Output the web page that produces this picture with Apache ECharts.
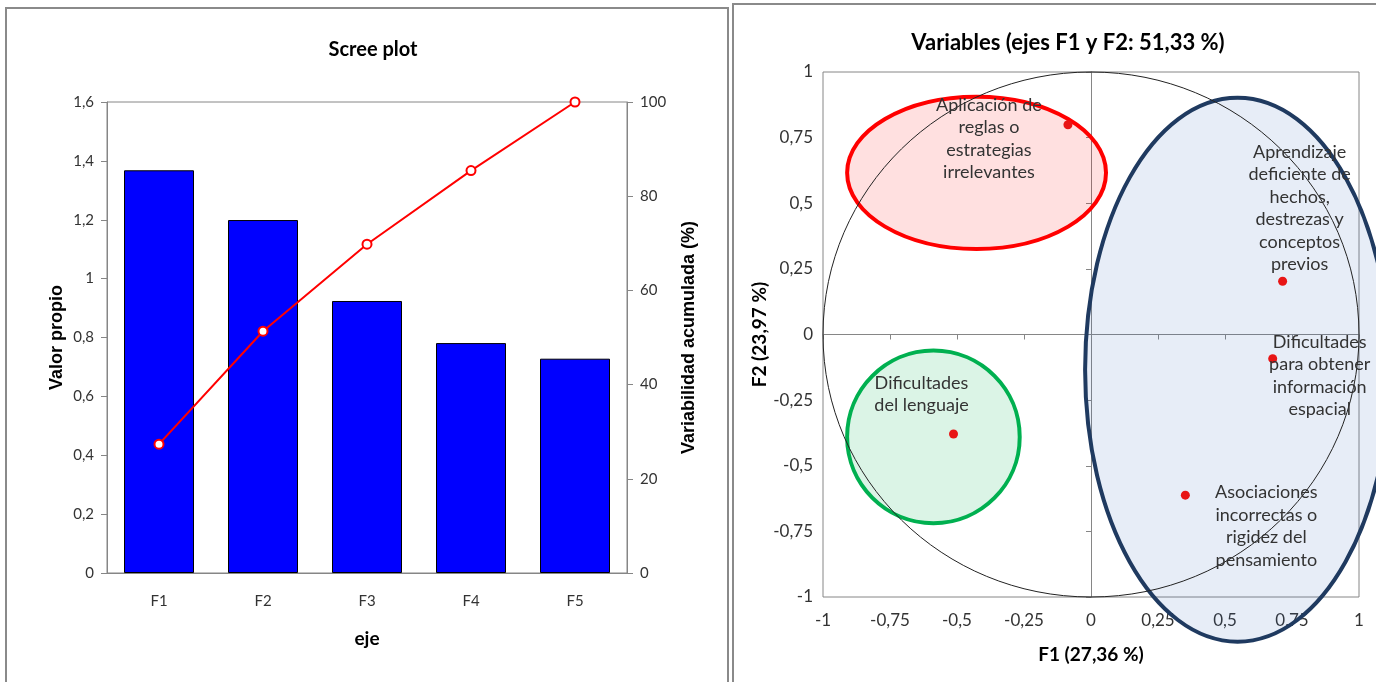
<!DOCTYPE html>
<html>
<head>
<meta charset="utf-8">
<script src="https://cdn.jsdelivr.net/npm/echarts@6/dist/echarts.min.js"></script>
<style>
  html, body { margin: 0; padding: 0; background: #fff; }
  #chart { width: 1376px; height: 682px; }
</style>
</head>
<body>
<div id="chart"></div>
<script>
var FONT = "Lato, 'Open Sans', sans-serif";
var ARIAL = "'Liberation Sans', Arial, sans-serif";

// scree plot
var ejes = ["F1", "F2", "F3", "F4", "F5"];
var valorPropio = [1.368, 1.199, 0.924, 0.781, 0.728];
var acumulada = [27.36, 51.33, 69.81, 85.43, 100];

// correlation circle
var varNames = [
  "Aplicación de\nreglas o\nestrategias\nirrelevantes",
  "Aprendizaje\ndeficiente de\nhechos,\ndestrezas y\nconceptos\nprevios",
  "Dificultades\npara obtener\ninformación\nespacial",
  "Asociaciones\nincorrectas o\nrigidez del\npensamiento",
  "Dificultades\ndel lenguaje"
];
var f1 = [-0.086, 0.715, 0.678, 0.352, -0.513];
var f2 = [0.799, 0.203, -0.092, -0.612, -0.379];
var labelOffsets = [[-79, 14], [17, -73], [47, 17], [81, 31], [-32, -40]];

// hand-drawn groups: [cx, cy, rx, ry] in F1/F2 units
var groups = [
  { e: [-0.427, 0.616, 0.483, 0.29], fill: "rgba(255,0,0,0.12)", stroke: "#ff0000" },
  { e: [-0.588, -0.39, 0.322, 0.329], fill: "rgba(0,176,80,0.14)", stroke: "#00b050" },
  { e: [0.547, -0.134, 0.569, 1.036], fill: "rgba(60,110,190,0.12)", stroke: "#1f3a60" }
];

function comma(v) { return String(v).replace(".", ","); }

var pointsData = [];
for (var i = 0; i < f1.length; i++) {
  pointsData.push({
    value: [f1[i], f2[i]],
    label: { formatter: varNames[i], offset: labelOffsets[i] }
  });
}

function ellipseItem(params, api) {
  var c = api.coord([api.value(0), api.value(1)]);
  var s = api.size([api.value(2), api.value(3)]);
  var g = groups[params.dataIndex];
  return {
    type: "ellipse",
    shape: { cx: c[0], cy: c[1], rx: s[0], ry: s[1] },
    style: { fill: g.fill, stroke: g.stroke, lineWidth: 4 }
  };
}

var leftName = { fontFamily: ARIAL, fontSize: 18, fontWeight: "bold", color: "#000" };
var rightName = { fontFamily: FONT, fontSize: 19, fontWeight: "bold", color: "#000" };
var leftTick = { fontFamily: FONT, fontSize: 15, color: "#333" };
var rightTick = { fontFamily: FONT, fontSize: 17, color: "#333" };

var option = {
  animation: false,
  textStyle: { fontFamily: FONT },
  graphic: [
    { type: "rect", shape: { x: 6, y: 8, width: 722, height: 690 }, style: { fill: null, stroke: "#8a8a8a", lineWidth: 2 } },
    { type: "rect", shape: { x: 733, y: 4, width: 660, height: 700 }, style: { fill: null, stroke: "#8a8a8a", lineWidth: 2 } }
  ],
  title: [
    { text: "Scree plot", left: 368, top: 35, textAlign: "center",
      textStyle: { fontFamily: FONT, fontSize: 20, fontWeight: "bold", color: "#000" } },
    { text: "Variables (ejes F1 y F2: 51,33 %)", left: 1063, top: 27, textAlign: "center",
      textStyle: { fontFamily: FONT, fontSize: 22, fontWeight: "bold", color: "#000" } }
  ],
  grid: [
    { left: 107, top: 102, width: 520, height: 471, show: true, borderColor: "#868686", borderWidth: 1 },
    { left: 823, top: 72, width: 536, height: 525, show: true, borderColor: "#868686", borderWidth: 1 }
  ],
  xAxis: [
    {
      type: "category", gridIndex: 0, data: ejes,
      axisLine: { lineStyle: { color: "#868686" } },
      axisTick: { length: 6, lineStyle: { color: "#868686" } },
      axisLabel: Object.assign({ margin: 21 }, leftTick),
      name: "eje", nameLocation: "middle", nameGap: 56, nameTextStyle: rightName
    },
    {
      type: "value", gridIndex: 1, min: -1, max: 1, interval: 0.25, position: "bottom",
      axisLine: { show: false, onZero: false }, axisTick: { show: false }, splitLine: { show: false },
      axisLabel: Object.assign({ margin: 15, formatter: comma }, rightTick),
      name: "F1 (27,36 %)", nameLocation: "middle", nameGap: 48, nameTextStyle: rightName
    },
    {
      type: "value", gridIndex: 1, min: -1, max: 1, interval: 0.25, position: "bottom",
      axisLine: { show: true, onZero: true, lineStyle: { color: "#868686" } },
      axisTick: { show: true, length: 5, lineStyle: { color: "#868686" } },
      axisLabel: { show: false }, splitLine: { show: false }
    }
  ],
  yAxis: [
    {
      type: "value", gridIndex: 0, min: 0, max: 1.6, interval: 0.2,
      axisLine: { show: true, lineStyle: { color: "#868686" } },
      axisTick: { show: true, length: 6, lineStyle: { color: "#868686" } },
      splitLine: { show: false },
      axisLabel: Object.assign({ margin: 13, formatter: function (v) { return comma(+v.toFixed(1)); } }, leftTick),
      name: "Valor propio", nameLocation: "middle", nameGap: 41, nameRotate: 90, nameTextStyle: leftName
    },
    {
      type: "value", gridIndex: 0, min: 0, max: 100, interval: 20, position: "right",
      axisLine: { show: true, lineStyle: { color: "#868686" } },
      axisTick: { show: true, length: 6, lineStyle: { color: "#868686" } },
      splitLine: { show: false },
      axisLabel: Object.assign({ margin: 13 }, leftTick),
      name: "Variabilidad acumulada (%)", nameLocation: "middle", nameGap: 53, nameRotate: 90,
      nameTextStyle: leftName
    },
    {
      type: "value", gridIndex: 1, min: -1, max: 1, interval: 0.25, position: "left",
      axisLine: { show: false, onZero: false }, axisTick: { show: false }, splitLine: { show: false },
      axisLabel: Object.assign({ margin: 10, formatter: comma }, rightTick),
      name: "F2 (23,97 %)", nameLocation: "middle", nameGap: 40, nameRotate: 90, nameTextStyle: rightName
    },
    {
      type: "value", gridIndex: 1, min: -1, max: 1, interval: 0.25, position: "left",
      axisLine: { show: true, onZero: true, lineStyle: { color: "#868686" } },
      axisTick: { show: true, length: 5, lineStyle: { color: "#868686" } },
      axisLabel: { show: false }, splitLine: { show: false }
    }
  ],
  series: [
    {
      type: "bar", xAxisIndex: 0, yAxisIndex: 0, data: valorPropio, barWidth: 70,
      itemStyle: { color: "#0000ff", borderColor: "#000", borderWidth: 1 }
    },
    {
      type: "line", xAxisIndex: 0, yAxisIndex: 1, data: acumulada,
      symbol: "circle", symbolSize: 9,
      lineStyle: { color: "#ff0000", width: 2 },
      itemStyle: { color: "#fff", borderColor: "#ff0000", borderWidth: 2 }, z: 5
    },
    {
      type: "custom", xAxisIndex: 1, yAxisIndex: 2, clip: false, z: 1,
      data: groups.map(function (g) { return g.e; }),
      renderItem: ellipseItem, silent: true
    },
    {
      type: "custom", xAxisIndex: 1, yAxisIndex: 2, clip: false, z: 3,
      data: [[0, 0, 1, 1]], silent: true,
      renderItem: function (params, api) {
        var c = api.coord([0, 0]);
        var s = api.size([api.value(2), api.value(3)]);
        return {
          type: "ellipse",
          shape: { cx: c[0], cy: c[1], rx: s[0], ry: s[1] },
          style: { fill: null, stroke: "#222", lineWidth: 1 }
        };
      }
    },
    {
      type: "scatter", xAxisIndex: 1, yAxisIndex: 2, data: pointsData, z: 6,
      symbol: "circle", symbolSize: 9, itemStyle: { color: "#e81515", opacity: 1 },
      label: { show: true, position: "inside", align: "center", verticalAlign: "middle",
        fontFamily: FONT, fontSize: 18, lineHeight: 22.5, color: "#333",
        textBorderWidth: 0 }
    }
  ]
};

var chart = echarts.init(document.getElementById("chart"));
chart.setOption(option);
</script>
</body>
</html>
